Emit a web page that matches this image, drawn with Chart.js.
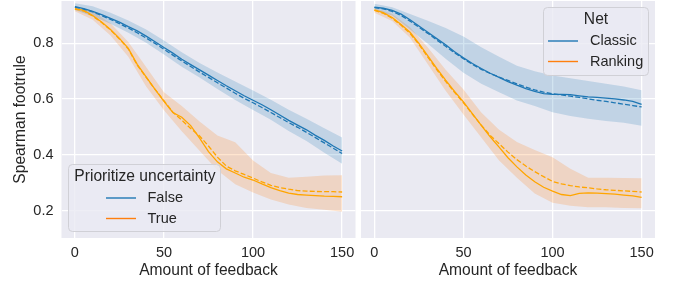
<!DOCTYPE html>
<html><head><meta charset="utf-8">
<script src="https://cdn.jsdelivr.net/npm/chart.js@4"></script>
<style>
html,body{margin:0;padding:0;background:#fff;}
#wrap{position:relative;width:677px;height:286px;}
canvas{position:absolute;left:0;top:0;}
</style></head><body>
<div id="wrap"><canvas id="c1" width="677" height="286"></canvas><canvas id="c2" width="677" height="286"></canvas></div>
<script>
// ---- data ----
const xLine = [0,5,10,15,20,25,30,35,40,45,50,55,60,65,70,75,80,85,90,95,100,105,110,115,120,125,130,135,140,145,150];
const xBand = [0,10,20,30,40,50,60,70,80,90,100,110,120,130,140,150];
const xTicks = [0,50,100,150];
const yTicks = [0.2,0.4,0.6,0.8];

// Left panel: Prioritize uncertainty False (blue) / True (orange); solid & dashed runs
const leftBlueSolid  = [0.932,0.925,0.915,0.903,0.890,0.876,0.860,0.845,0.826,0.806,0.785,0.765,0.743,0.724,0.705,0.686,0.667,0.648,0.630,0.612,0.596,0.580,0.562,0.543,0.524,0.507,0.490,0.470,0.452,0.432,0.414];
const leftBlueDashed = [0.930,0.923,0.913,0.900,0.886,0.871,0.855,0.838,0.819,0.800,0.779,0.758,0.737,0.717,0.697,0.678,0.659,0.640,0.621,0.603,0.587,0.570,0.552,0.534,0.516,0.499,0.481,0.462,0.443,0.424,0.405];
const leftBlueUpper  = [0.944,0.933,0.910,0.882,0.850,0.810,0.768,0.730,0.696,0.663,0.631,0.598,0.562,0.530,0.496,0.462];
const leftBlueLower  = [0.920,0.897,0.870,0.838,0.802,0.760,0.716,0.678,0.636,0.597,0.561,0.526,0.486,0.450,0.408,0.368];
const leftOrangeSolid  = [0.925,0.918,0.900,0.877,0.850,0.818,0.782,0.725,0.680,0.635,0.592,0.552,0.535,0.505,0.460,0.412,0.375,0.350,0.335,0.320,0.310,0.296,0.283,0.272,0.263,0.258,0.256,0.254,0.252,0.251,0.250];
const leftOrangeDashed = [0.923,0.916,0.898,0.875,0.848,0.816,0.780,0.722,0.678,0.635,0.595,0.553,0.525,0.495,0.468,0.432,0.392,0.360,0.343,0.330,0.317,0.303,0.291,0.283,0.277,0.272,0.270,0.269,0.268,0.268,0.267];
const leftOrangeUpper  = [0.935,0.915,0.872,0.805,0.715,0.625,0.575,0.520,0.470,0.445,0.380,0.335,0.318,0.322,0.326,0.327];
const leftOrangeLower  = [0.915,0.885,0.828,0.752,0.645,0.560,0.485,0.415,0.345,0.295,0.265,0.240,0.222,0.210,0.203,0.196];

// Right panel: Net Classic (blue) / Ranking (orange)
const rightBlueSolid  = [0.930,0.926,0.918,0.905,0.885,0.862,0.840,0.817,0.795,0.770,0.748,0.728,0.710,0.693,0.678,0.663,0.650,0.638,0.628,0.620,0.617,0.617,0.616,0.612,0.608,0.606,0.604,0.601,0.597,0.592,0.581];
const rightBlueDashed = [0.928,0.924,0.915,0.900,0.880,0.858,0.836,0.812,0.790,0.766,0.745,0.725,0.707,0.692,0.679,0.667,0.655,0.643,0.633,0.625,0.619,0.615,0.611,0.606,0.601,0.596,0.592,0.587,0.582,0.577,0.572];
const rightBlueUpper  = [0.942,0.930,0.905,0.881,0.855,0.825,0.786,0.752,0.720,0.700,0.685,0.675,0.665,0.655,0.645,0.632];
const rightBlueLower  = [0.918,0.900,0.850,0.799,0.745,0.695,0.655,0.625,0.595,0.575,0.553,0.540,0.530,0.522,0.515,0.505];
const rightOrangeSolid  = [0.920,0.910,0.893,0.868,0.840,0.800,0.755,0.710,0.668,0.628,0.590,0.548,0.506,0.465,0.428,0.390,0.357,0.328,0.304,0.284,0.270,0.258,0.254,0.262,0.264,0.263,0.261,0.259,0.256,0.253,0.248];
const rightOrangeDashed = [0.918,0.908,0.890,0.865,0.836,0.796,0.751,0.706,0.664,0.624,0.587,0.546,0.507,0.470,0.440,0.410,0.383,0.360,0.340,0.322,0.305,0.296,0.290,0.285,0.282,0.278,0.275,0.273,0.271,0.269,0.267];
const rightOrangeUpper  = [0.928,0.905,0.858,0.785,0.705,0.635,0.552,0.490,0.446,0.418,0.392,0.350,0.318,0.318,0.317,0.316];
const rightOrangeLower  = [0.910,0.880,0.820,0.725,0.630,0.545,0.462,0.380,0.318,0.262,0.228,0.218,0.212,0.212,0.210,0.209];

const legendLeft  = {title:'Prioritize uncertainty', labels:['False','True']};
const legendRight = {title:'Net', labels:['Classic','Ranking']};

// ---- styles ----
const BLUE = '#1f77b4', ORANGE_LINE = '#ffa500', ORANGE_LEG = '#ff7f0e';
const BLUE_BAND = 'rgba(31,119,180,0.2)', ORANGE_BAND = 'rgba(255,127,14,0.2)';
const TXT = '#262626';
const FONT = "'Liberation Sans', Arial, sans-serif";

function pts(xs, ys){ return xs.map((x,i)=>({x:x, y:ys[i]})); }
function band(up, lo, col){
  return [
    {data:pts(xBand, up), fill:'+1', backgroundColor:col, borderWidth:0, pointRadius:0, order:5},
    {data:pts(xBand, lo), fill:false, borderWidth:0, pointRadius:0, order:5}
  ];
}
function line(ys, col, dashed){
  return {data:pts(xLine, ys), borderColor:col, borderWidth:1.3, borderDash: dashed?[5,2.2]:[], pointRadius:0, fill:false, tension:0, order:0};
}

const bgPlugin = {
  id:'bg',
  beforeDraw(chart){
    const a = chart.chartArea, c = chart.ctx;
    c.save(); c.fillStyle = '#eaeaf2'; c.fillRect(a.left, a.top, a.right-a.left, a.bottom-a.top); c.restore();
  }
};

function legendPlugin(cfg){
  return {
    id:'customLegend',
    afterDraw(chart){
      const c = chart.ctx;
      c.save();
      const b = cfg.box;
      c.beginPath();
      const r = 4;
      c.moveTo(b.x0+r, b.y0); c.lineTo(b.x1-r, b.y0); c.quadraticCurveTo(b.x1, b.y0, b.x1, b.y0+r);
      c.lineTo(b.x1, b.y1-r); c.quadraticCurveTo(b.x1, b.y1, b.x1-r, b.y1);
      c.lineTo(b.x0+r, b.y1); c.quadraticCurveTo(b.x0, b.y1, b.x0, b.y1-r);
      c.lineTo(b.x0, b.y0+r); c.quadraticCurveTo(b.x0, b.y0, b.x0+r, b.y0);
      c.closePath();
      c.fillStyle = 'rgba(234,234,242,0.8)'; c.fill();
      c.strokeStyle = '#d0d0d6'; c.lineWidth = 1; c.stroke();
      c.fillStyle = TXT; c.textBaseline = 'middle';
      c.font = '15.6px ' + FONT; c.textAlign = 'center';
      c.fillText(cfg.legend.title, cfg.titleX, cfg.titleY);
      c.font = '14.5px ' + FONT; c.textAlign = 'left';
      const cols = [BLUE, ORANGE_LEG];
      cfg.legend.labels.forEach((lab, i) => {
        const y = cfg.rowY[i];
        c.strokeStyle = cols[i]; c.lineWidth = 1.4;
        c.beginPath(); c.moveTo(cfg.hx0, y); c.lineTo(cfg.hx1, y); c.stroke();
        c.fillText(lab, cfg.labelX, y);
      });
      c.restore();
    }
  };
}

function noPad(s){ s.paddingTop = 0; s.paddingBottom = 0; s.paddingLeft = 0; s.paddingRight = 0; }

function makeChart(id, panel, isLeft){
  const datasets = [
    line(panel.bs, BLUE, false), line(panel.bd, BLUE, true),
    line(panel.os, ORANGE_LINE, false), line(panel.od, ORANGE_LINE, true),
    ...band(panel.bu, panel.bl, BLUE_BAND),
    ...band(panel.ou, panel.ol, ORANGE_BAND)
  ];
  return new Chart(document.getElementById(id), {
    type:'line',
    data:{datasets},
    plugins:[bgPlugin, legendPlugin(panel.leg)],
    options:{
      responsive:false, animation:false, devicePixelRatio:1,
      layout:{padding: isLeft ? {left:0, right:321.5, top:1, bottom:0} : {left:361, right:22, top:1, bottom:0}},
      plugins:{legend:{display:false}, tooltip:{enabled:false}, filler:{drawTime:'beforeDatasetsDraw'}},
      scales:{
        x:{type:'linear', min:-7.5, max:157.5,
          afterBuildTicks(s){ s.ticks = xTicks.map(v=>({value:v})); },
          afterFit(s){ s.height = 48; noPad(s); },
          grid:{color:'#ffffff', lineWidth:1.3, drawTicks:false},
          border:{display:false},
          ticks:{color:TXT, font:{family:FONT, size:14.5}, padding:6, maxRotation:0, callback:v=>String(v)},
          title:{display:true, text:'Amount of feedback', color:TXT, font:{family:FONT, size:15.6}, padding:{top:0, bottom:6}}
        },
        y:{type:'linear', min:0.102, max:0.952,
          afterBuildTicks(s){ s.ticks = yTicks.map(v=>({value:v})); },
          afterFit(s){ s.width = isLeft ? 61.5 : 0; noPad(s); },
          grid:{color:'#ffffff', lineWidth:1.3, drawTicks:false},
          border:{display:false},
          ticks:{display:isLeft, color:TXT, font:{family:FONT, size:14.5}, padding:8, callback:v=>v.toFixed(1)},
          title:{display:isLeft, text:'Spearman footrule', color:TXT, font:{family:FONT, size:15.6}, padding:{top:11, bottom:0}}
        }
      }
    }
  });
}

makeChart('c1', {bs:leftBlueSolid, bd:leftBlueDashed, os:leftOrangeSolid, od:leftOrangeDashed,
  bu:leftBlueUpper, bl:leftBlueLower, ou:leftOrangeUpper, ol:leftOrangeLower,
  leg:{legend:legendLeft, box:{x0:68.5,y0:164.5,x1:220.5,y1:231.5}, titleX:145, titleY:177, rowY:[198,218.5], hx0:106, hx1:136, labelX:147.5}}, true);
makeChart('c2', {bs:rightBlueSolid, bd:rightBlueDashed, os:rightOrangeSolid, od:rightOrangeDashed,
  bu:rightBlueUpper, bl:rightBlueLower, ou:rightOrangeUpper, ol:rightOrangeLower,
  leg:{legend:legendRight, box:{x0:543.5,y0:7.5,x1:648.5,y1:75.5}, titleX:596, titleY:20, rowY:[41,61.5], hx0:548, hx1:578, labelX:590}}, false);
</script>
</body></html>
